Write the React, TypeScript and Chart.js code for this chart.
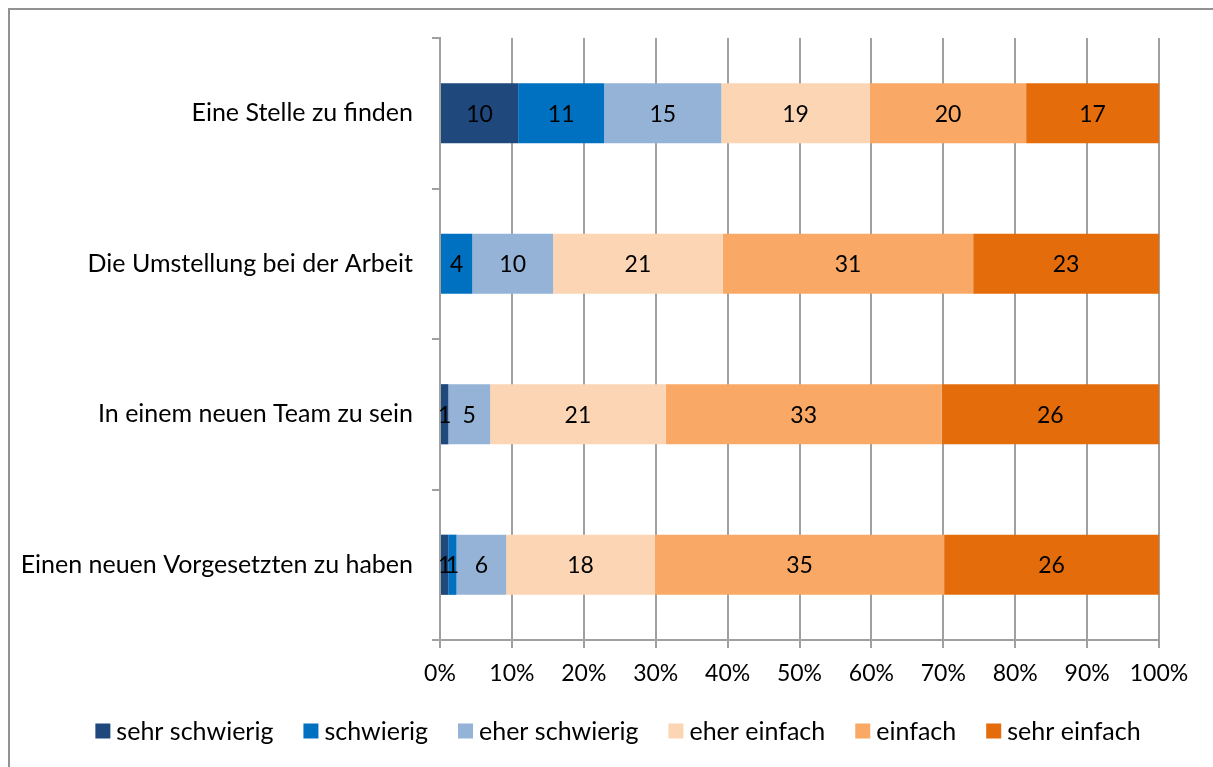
import React, { useEffect, useRef } from "react";
import { Chart, registerables } from "chart.js";

Chart.register(...registerables);

const categories = [
  "Eine Stelle zu finden",
  "Die Umstellung bei der Arbeit",
  "In einem neuen Team zu sein",
  "Einen neuen Vorgesetzten zu haben",
];
const seriesNames = ["sehr schwierig", "schwierig", "eher schwierig", "eher einfach", "einfach", "sehr einfach"];
const sehrSchwierig = [10, 0, 1, 1];
const schwierig = [11, 4, 0, 1];
const eherSchwierig = [15, 10, 5, 6];
const eherEinfach = [19, 21, 21, 18];
const einfach = [20, 31, 33, 35];
const sehrEinfach = [17, 23, 26, 26];
const xTickValues = [0, 10, 20, 30, 40, 50, 60, 70, 80, 90, 100];
const seriesColors = ["#1F497D", "#0070C0", "#95B3D7", "#FCD5B5", "#F9A865", "#E46C0A"];

const FONT_FAMILY = "Lato";
const TEXT_SIZE = 25;
const NUM_SIZE = 23;
const GRID_COLOR = "#a0a0a0";

const rawSeries = [sehrSchwierig, schwierig, eherSchwierig, eherEinfach, einfach, sehrEinfach];
const totals = categories.map((_, i) => rawSeries.reduce((s, arr) => s + arr[i], 0));
const pctSeries = rawSeries.map((arr) => arr.map((v, i) => (v / totals[i]) * 100));

const dataLabelPlugin = {
  id: "segmentLabels",
  afterDatasetsDraw(chart: any) {
    const ctx = chart.ctx;
    ctx.save();
    ctx.font = `${NUM_SIZE}px ${FONT_FAMILY}`;
    ctx.fillStyle = "#000";
    ctx.textAlign = "center";
    ctx.textBaseline = "middle";
    chart.data.datasets.forEach((ds: any, di: number) => {
      const meta = chart.getDatasetMeta(di);
      meta.data.forEach((el: any, i: number) => {
        const raw = rawSeries[di][i];
        if (!raw) return;
        const cx = (el.x + el.base) / 2;
        ctx.fillText(String(raw), cx, el.y + 1);
      });
    });
    ctx.restore();
  },
};

const legendPlugin = {
  id: "customLegend",
  afterDraw(chart: any) {
    const ctx = chart.ctx;
    ctx.save();
    ctx.font = `${TEXT_SIZE}px ${FONT_FAMILY}`;
    ctx.textBaseline = "middle";
    ctx.textAlign = "left";
    const box = 15;
    const gapText = 6;
    const gapItem = 30;
    const widths = seriesNames.map((n) => box + gapText + ctx.measureText(n).width);
    const total = widths.reduce((a, b) => a + b, 0) + gapItem * (widths.length - 1);
    let x = 618 - total / 2;
    const cy = 731;
    seriesNames.forEach((n, i) => {
      ctx.fillStyle = seriesColors[i];
      ctx.fillRect(x, cy - box / 2, box, box);
      ctx.fillStyle = "#000";
      ctx.fillText(n, x + box + gapText, cy + 1);
      x += widths[i] + gapItem;
    });
    ctx.restore();
  },
};

export default function App() {
  const ref = useRef<HTMLCanvasElement>(null);
  useEffect(() => {
    if (!ref.current) return;
    const chart = new Chart(ref.current, {
      type: "bar",
      data: {
        labels: categories,
        datasets: seriesNames.map((name, i) => ({
          label: name,
          data: pctSeries[i],
          backgroundColor: seriesColors[i],
          borderWidth: 0,
          barPercentage: 0.4,
          categoryPercentage: 1.0,
        })),
      },
      options: {
        indexAxis: "y",
        responsive: false,
        devicePixelRatio: 1,
        animation: false,
        layout: { padding: { top: 38, right: 54, left: 10, bottom: 0 } },
        plugins: {
          legend: { display: false },
          tooltip: { enabled: false },
          title: { display: false },
        },
        scales: {
          x: {
            type: "linear",
            stacked: true,
            min: 0,
            max: 100,
            afterBuildTicks: (scale: any) => {
              scale.ticks = xTickValues.map((v) => ({ value: v }));
            },
            afterFit: (scale: any) => {
              scale.height = 127;
            },
            ticks: {
              callback: (v: any) => `${v}%`,
              color: "#000",
              font: { family: FONT_FAMILY, size: NUM_SIZE },
              padding: 12,
              maxRotation: 0,
            },
            grid: { color: GRID_COLOR, lineWidth: 2, tickLength: 8 },
            border: { display: true, color: GRID_COLOR, width: 2 },
          },
          y: {
            type: "category",
            stacked: true,
            afterFit: (scale: any) => {
              scale.width = 430;
            },
            ticks: {
              color: "#000",
              font: { family: FONT_FAMILY, size: TEXT_SIZE },
              padding: 19,
            },
            grid: {
              offset: true,
              drawOnChartArea: false,
              color: GRID_COLOR,
              lineWidth: 2,
              tickLength: 8,
            },
            border: { display: true, color: GRID_COLOR, width: 2 },
          },
        },
      },
      plugins: [dataLabelPlugin, legendPlugin],
    } as any);
    return () => chart.destroy();
  }, []);

  return (
    <div>
      <div
        style={{
          position: "fixed",
          left: 8,
          top: 8,
          width: 1300,
          height: 900,
          borderLeft: "2px solid #929292",
          borderTop: "2px solid #929292",
          boxSizing: "border-box",
        }}
      />
      <canvas
        ref={ref}
        width={1213}
        height={767}
        style={{ position: "fixed", left: 0, top: 0, width: 1213, height: 767 }}
      />
    </div>
  );
}
